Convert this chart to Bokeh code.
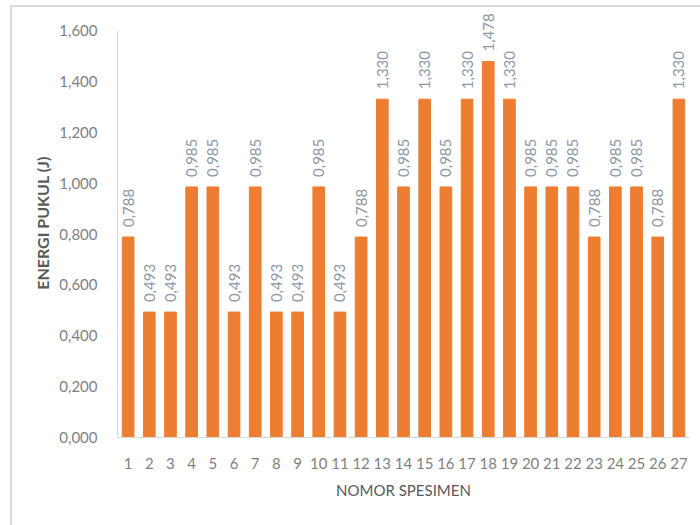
import math
from bokeh.plotting import figure
from bokeh.models import ColumnDataSource, FixedTicker, FactorRange, Range1d
from bokeh.core.properties import value
from bokeh.embed import file_html
from bokeh.resources import INLINE

specimens = [str(i) for i in range(1, 28)]
energy = [0.788, 0.493, 0.493, 0.985, 0.985, 0.493, 0.985, 0.493, 0.493, 0.985,
          0.493, 0.788, 1.330, 0.985, 1.330, 0.985, 1.330, 1.478, 1.330, 0.985,
          0.985, 0.985, 0.788, 0.985, 0.985, 0.788, 1.330]
y_ticks = [0.0, 0.2, 0.4, 0.6, 0.8, 1.0, 1.2, 1.4, 1.6]
y_tick_labels = ["0,000", "0,200", "0,400", "0,600", "0,800", "1,000", "1,200", "1,400", "1,600"]
x_title = "NOMOR SPESIMEN"
y_title = "ENERGI PUKUL (J)"

labels = [f"{v:.3f}".replace(".", ",") for v in energy]
src = ColumnDataSource(dict(x=specimens, y=energy, lab=labels))

FONT = "Lato"
# frame: y=0 at 437px, y=1.6 at 30px -> 254.375 px per unit; extend top to 8px for labels
y_top = 1.6 + 22 / 254.375
p = figure(width=700, height=525, x_range=FactorRange(*specimens, range_padding=0.0),
           y_range=Range1d(0, y_top), output_backend="svg", toolbar_location=None,
           min_border_left=117, min_border_right=11, min_border_top=8, min_border_bottom=88)
p.outline_line_color = None
p.border_fill_color = None
p.background_fill_color = None
p.styles = {
    "background-color": "white",
    "background-image": "linear-gradient(#d9d9d9,#d9d9d9), linear-gradient(#d9d9d9,#d9d9d9)",
    "background-size": "2px 100%, 100% 2px",
    "background-position": "10px 5px, 10px 5px",
    "background-repeat": "no-repeat",
}
p.xgrid.grid_line_color = None
p.ygrid.grid_line_color = None

p.vbar(x="x", top="y", width=0.55, color="#ED7D31", source=src)
p.text(x="x", y="y", text="lab", source=src, angle=math.pi / 2, y_offset=-10,
       text_align="left", text_baseline="middle", text_font=value(FONT),
       text_font_size="15px", text_color="#8d98a6")

p.yaxis.ticker = FixedTicker(ticks=y_ticks)
p.yaxis.bounds = (0, 1.6)
p.yaxis.major_label_overrides = {t: l for t, l in zip(y_ticks, y_tick_labels)}
for ax in (p.xaxis, p.yaxis):
    ax.major_tick_line_color = None
    ax.minor_tick_line_color = None
    ax.major_label_text_font = FONT
    ax.major_label_text_font_size = "15px"
    ax.major_label_text_color = "#7f7f7f"
    ax.axis_label_text_font = FONT
    ax.axis_label_text_color = "#595959"
    ax.axis_label_text_font_style = "normal"
p.yaxis.axis_line_color = "#d9d9d9"
p.xaxis.axis_line_color = "#d9d9d9"
p.yaxis.major_label_standoff = 14
p.xaxis.major_label_standoff = 14
p.yaxis.axis_label = y_title
p.yaxis.axis_label_text_font_style = "bold"
p.yaxis.axis_label_text_font_size = "16px"
p.yaxis.axis_label_standoff = 4
p.xaxis.axis_label = x_title
p.xaxis.axis_label_text_font_size = "15px"
p.xaxis.axis_label_standoff = 9

open("out.html", "w").write(file_html(p, INLINE))
